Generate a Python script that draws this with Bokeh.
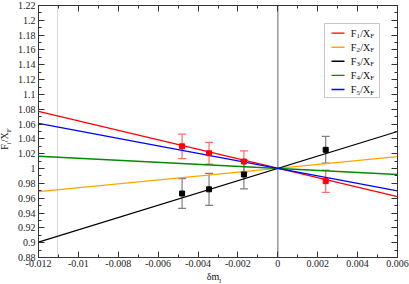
from bokeh.plotting import figure
from bokeh.models import (ColumnDataSource, Whisker, TeeHead, Span, Label,
                          BoxAnnotation, FixedTicker, LinearAxis, Div)
from bokeh.layouts import row, column
from bokeh.embed import file_html
from bokeh.resources import INLINE

# ---------------- data ----------------
series_subs = ["1", "2", "3", "4", "5"]
series_colors = ["#ff0000", "#ffa500", "#000000", "#008b00", "#0000ff"]

line_x = [-0.012, 0.006]
f1_line = [1.077, 0.962]
f2_line = [0.969, 1.016]
f3_line = [0.9006, 1.050]
f4_line = [1.0166, 0.992]
f5_line = [1.061, 0.970]

pts_x = [-0.0048, -0.00345, -0.0017, 0.0024]
f1_pts = [1.030, 1.0207, 1.0095, 0.983]
f1_err = [0.0165, 0.0147, 0.0144, 0.015]
f3_pts = [0.9663, 0.972, 0.992, 1.0253]
f3_err = [0.020, 0.0216, 0.0195, 0.018]

dotted_x = -0.01105

xticks = [-0.012, -0.01, -0.008, -0.006, -0.004, -0.002, 0.0, 0.002, 0.004, 0.006]
xtick_labels = ["-0.012", "-0.01", "-0.008", "-0.006", "-0.004", "-0.002", "0",
                "0.002", "0.004", "0.006"]
yticks = [0.88, 0.9, 0.92, 0.94, 0.96, 0.98, 1.0, 1.02, 1.04, 1.06, 1.08, 1.1,
          1.12, 1.14, 1.16, 1.18, 1.2, 1.22]
ytick_labels = ["0.88", "0.9", "0.92", "0.94", "0.96", "0.98", "1", "1.02", "1.04",
                "1.06", "1.08", "1.1", "1.12", "1.14", "1.16", "1.18", "1.2", "1.22"]
xminor = [round(-0.012 + 0.001 * i, 4) for i in range(19)]
yminor = [round(0.88 + 0.01 * i, 3) for i in range(35)]

# ---------------- layout (picture px) ----------------
YT_W = 14                       # y-title column, x 0..14
W, H = 395, 272                 # figure, x 14..409, y 0..272
ML, MR, MT, MB = 23, 12, 5, 15  # frame x 37..397, y 5..257
XT_H = 12                       # x-title row, y 272..284
PAGE_FL, PAGE_FB = YT_W + ML, H - MB
FONT = "Liberation Serif"
AX = "#333333"

p = figure(width=W, height=H, x_range=(-0.012, 0.006), y_range=(0.88, 1.22),
           output_backend="svg", toolbar_location=None,
           min_border_left=ML, min_border_right=MR, min_border_top=MT,
           min_border_bottom=MB, background_fill_color="white",
           border_fill_color="white")
p.xgrid.visible = False
p.ygrid.visible = False
p.outline_line_color = AX


def style_axis(ax, ticks, minor, labels, show):
    ax.ticker = FixedTicker(ticks=ticks, minor_ticks=minor)
    ax.major_tick_in = 6
    ax.major_tick_out = 0
    ax.minor_tick_in = 3
    ax.minor_tick_out = 0
    ax.major_tick_line_color = AX
    ax.minor_tick_line_color = AX
    ax.axis_line_color = AX
    ax.axis_label_standoff = 0
    if show:
        ax.major_label_overrides = dict(zip(ticks, labels))
        ax.major_label_text_font = FONT
        ax.major_label_text_font_size = "10px"
        ax.major_label_text_color = "#222222"
    else:
        ax.major_label_overrides = {t: "" for t in ticks}
        ax.major_label_text_font_size = "1px"
        ax.major_label_standoff = 0


style_axis(p.xaxis[0], xticks, xminor, xtick_labels, True)
style_axis(p.yaxis[0], yticks, yminor, ytick_labels, True)
p.xaxis[0].major_label_standoff = 2
p.yaxis[0].major_label_standoff = 3
top = LinearAxis()
right = LinearAxis()
style_axis(top, xticks, xminor, xtick_labels, False)
style_axis(right, yticks, yminor, ytick_labels, False)
p.add_layout(top, "above")
p.add_layout(right, "right")

# reference lines
p.add_layout(Span(location=0, dimension="height", line_color="#999999",
                  line_width=1.5, level="underlay"))
p.add_layout(Span(location=dotted_x, dimension="height", line_color="#b0b0b0",
                  line_width=1, line_dash="1 1", level="underlay"))

# fit lines
for ys, c in zip([f1_line, f2_line, f3_line, f4_line, f5_line], series_colors):
    p.line(line_x, ys, line_color=c, line_width=1.3)

# points with error bars
for ys, es, c, wc in [(f1_pts, f1_err, "#ff0000", "#ff6b6b"),
                      (f3_pts, f3_err, "#000000", "#808080")]:
    src = ColumnDataSource(dict(x=pts_x, y=ys,
                                lo=[a - b for a, b in zip(ys, es)],
                                hi=[a + b for a, b in zip(ys, es)]))
    p.add_layout(Whisker(base="x", upper="hi", lower="lo", source=src,
                         line_color=wc, line_width=1.2,
                         upper_head=TeeHead(size=8, line_color=wc, line_width=1.2),
                         lower_head=TeeHead(size=8, line_color=wc, line_width=1.2)))
    p.scatter("x", "y", source=src, marker="square", size=5, color=c)


# ------------- screen-unit helpers (picture px -> frame-relative screen units) -------------
def sx(px):
    return px - PAGE_FL


def sy(py):
    return PAGE_FB - py


def lab(px, py, text, size):
    p.add_layout(Label(x=sx(px), y=sy(py), x_units="screen", y_units="screen",
                       text=text, text_font=FONT, text_font_size=f"{size}px",
                       text_color="#111111", text_baseline="middle",
                       text_align="left"))


# legend (custom, for subscripts)
p.add_layout(BoxAnnotation(left=sx(323), right=sx(378), top=sy(23), bottom=sy(97),
                           left_units="screen", right_units="screen",
                           top_units="screen", bottom_units="screen",
                           fill_color="white", fill_alpha=1.0,
                           line_color="#444444", line_width=1))
for i, (sub, c) in enumerate(zip(series_subs, series_colors)):
    cy = 32.6 + 14.1 * i
    p.add_layout(BoxAnnotation(left=sx(330), right=sx(343), top=sy(cy - 0.7),
                               bottom=sy(cy + 0.7), left_units="screen",
                               right_units="screen", top_units="screen",
                               bottom_units="screen", fill_color=c, fill_alpha=1.0,
                               line_color=None))
    lab(349.3, cy, "F", 10)
    lab(355.0, cy + 3, sub, 7)
    lab(358.8, cy, "/X", 10)
    lab(368.8, cy + 3, "F", 7)

# axis titles as HTML (with subscripts), absolutely placed inside their boxes
SUB = 'style="font-size:7px"'
TXT = f"font-family:'{FONT}';font-size:10px;line-height:10px;color:#111;white-space:nowrap;"
ydiv = Div(text=(f'<div style="position:relative;width:{YT_W}px;height:{H + XT_H}px;">'
                 f'<div style="position:absolute;left:7px;top:139px;'
                 f'transform:translate(-50%,-50%) rotate(-90deg);{TXT}">'
                 f'F<sub {SUB}>i</sub>/X<sub {SUB}>F</sub></div></div>'),
           width=YT_W, height=H + XT_H, margin=(0, 0, 0, 0))
xdiv = Div(text=(f'<div style="position:relative;width:{W}px;height:{XT_H}px;">'
                 f'<div style="position:absolute;left:{214 - YT_W}px;top:0px;'
                 f'transform:translateX(-50%);{TXT}">'
                 f'δm<sub {SUB}>l</sub></div></div>'),
           width=W, height=XT_H, margin=(0, 0, 0, 0))

layout = row(ydiv, column(p, xdiv, spacing=0), spacing=0)
open("out.html", "w").write(file_html(layout, INLINE))
